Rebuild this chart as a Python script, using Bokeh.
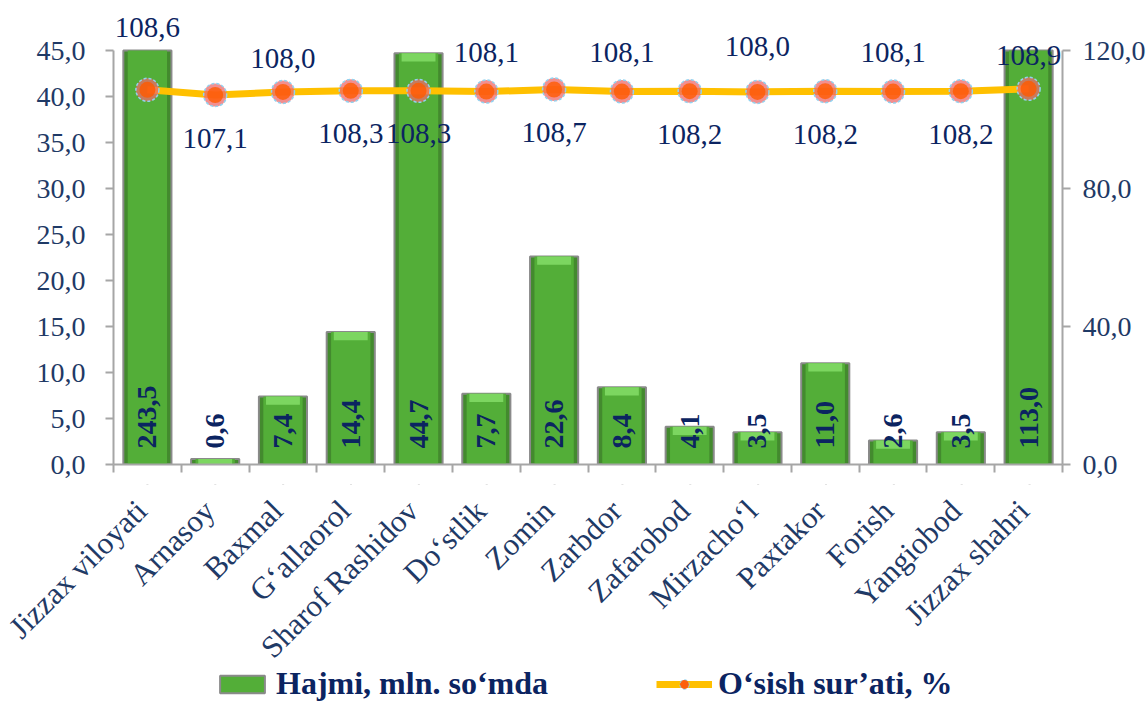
import numpy as np
from bokeh.plotting import figure
from bokeh.layouts import column
from bokeh.models import (Range1d, LinearAxis, FixedTicker, CustomJSTickFormatter,
                          ColumnDataSource, Legend, LegendItem)
from bokeh.core.properties import value
from bokeh.embed import file_html
from bokeh.resources import INLINE

categories = ["Jizzax viloyati", "Arnasoy", "Baxmal", "G\u2018allaorol", "Sharof Rashidov",
              "Do\u2018stlik", "Zomin", "Zarbdor", "Zafarobod", "Mirzacho\u2018l",
              "Paxtakor", "Forish", "Yangiobod", "Jizzax shahri"]
volume = [243.5, 0.6, 7.4, 14.4, 44.7, 7.7, 22.6, 8.4, 4.1, 3.5, 11.0, 2.6, 3.5, 113.0]
growth = [108.6, 107.1, 108.0, 108.3, 108.3, 108.1, 108.7, 108.1, 108.2, 108.0, 108.2, 108.1, 108.2, 108.9]
left_ticks = [0, 5, 10, 15, 20, 25, 30, 35, 40, 45]
right_ticks = [0, 40, 80, 120]
bar_name = "Hajmi, mln. so\u2018mda"
line_name = "O\u2018sish sur\u2019ati, %"

# label placement (style): screen-pixel offsets (down positive) of growth labels
growth_label_dy = [-62, 43, -33, 43, 43, -39, 43, -39, 43, -45, 43, -39, 43, -33]

FONT = "Liberation Serif"
NAVY = "#0B2461"
TICK_COL = "#1F3A66"
LEFT_MAX = left_ticks[-1]
RIGHT_MAX = right_ticks[-1]

# layout (pixels)
W = 1148
LEFT, RIGHT = 113, 85
TOP = 8            # frame top (space for labels above the axes)
AXIS_TOP = 50      # where the axes' maximum sits
AXIS_BOT = 464     # where zero sits
H1 = 484
H2 = 702 - H1
FRAME_H = AXIS_BOT - TOP
AXIS_H = AXIS_BOT - AXIS_TOP

n = len(categories)
xc = np.arange(n) + 0.5
PX = (W - LEFT - RIGHT) / n   # pixels per category

def fmt(v):
    return f"{v:.1f}".replace(".", ",")

src = ColumnDataSource(dict(
    x=xc, v=volume, g=growth,
    vtop=[min(v, LEFT_MAX) for v in volume],
    vlab=[fmt(v) for v in volume],
    glab=[fmt(g) for g in growth],
    gdy=growth_label_dy,
    cat=categories,
    bev_top=[v if v <= LEFT_MAX else 0.0 for v in volume],
    bev_bot=[max(0.0, v - 0.9) if v <= LEFT_MAX else 0.0 for v in volume],
))

xr = Range1d(0, n)
p = figure(width=W, height=H1, output_backend="svg", toolbar_location=None,
           x_range=xr, y_range=Range1d(0, LEFT_MAX * FRAME_H / AXIS_H),
           min_border_left=LEFT, min_border_top=TOP, min_border_right=RIGHT,
           min_border_bottom=H1 - AXIS_BOT)
p.frame_align = False
p.extra_y_ranges = {"r": Range1d(0, RIGHT_MAX * FRAME_H / AXIS_H)}
p.outline_line_color = None
p.xgrid.visible = False
p.ygrid.visible = False

# bars
bar_base = p.vbar(x="x", top="vtop", bottom=0, width=0.71, source=src,
                  fill_color="#438A2E", line_color="#8A8A8A", line_width=2)
p.vbar(x="x", top="vtop", bottom=0, width=0.58, source=src, fill_color="#53AE38", line_color=None)
p.vbar(x="x", top="bev_top", bottom="bev_bot", width=0.5, source=src, fill_color="#7CD660",
       line_color=None)

# bar value labels
p.text(x="x", y=0, text="vlab", source=src, angle=np.pi / 2, text_align="left",
       text_baseline="middle", y_offset=-16,
       text_font=value(FONT), text_font_style="bold", text_font_size="28px", text_color=NAVY)

# line
ln = p.line(x="x", y="g", source=src, y_range_name="r", line_color="#FFC000", line_width=7)
outer = p.scatter(x="x", y="g", source=src, y_range_name="r", size=23, fill_color="#EE6A6A",
                  fill_alpha=0.75, line_color="#92D2F0", line_width=1.5, line_dash="3 2")
inner = p.scatter(x="x", y="g", source=src, y_range_name="r", size=16, fill_color="#FF5A00",
                  fill_alpha=0.8, line_color=None)
p.text(x="x", y="g", text="glab", source=src, y_range_name="r", y_offset="gdy",
       text_align="center", text_baseline="middle",
       text_font=value(FONT), text_font_size="29px", text_color=NAVY)

# axes
fmt_js = "return tick.toFixed(1).replace('.', ',');"
ax = p.xaxis[0]
ax.ticker = FixedTicker(ticks=[], minor_ticks=list(range(n + 1)))
ax.major_tick_line_color = None
ax.major_tick_out = 0
ax.major_tick_in = 0
ax.minor_tick_line_color = "#A6A6A6"
ax.minor_tick_line_width = 2
ax.minor_tick_out = 8
ax.minor_tick_in = 0
ax.axis_line_color = "#A6A6A6"
ax.axis_line_width = 2

ay = p.yaxis[0]
ay.bounds = (0, LEFT_MAX)
ay.ticker = FixedTicker(ticks=left_ticks)
ay.formatter = CustomJSTickFormatter(code=fmt_js)
ar = LinearAxis(y_range_name="r", ticker=FixedTicker(ticks=right_ticks),
                formatter=CustomJSTickFormatter(code=fmt_js), bounds=(0, RIGHT_MAX))
p.add_layout(ar, "right")
for a, st in ((ay, 20), (ar, 12)):
    a.axis_line_color = "#A6A6A6"
    a.axis_line_width = 2
    a.major_tick_line_color = "#A6A6A6"
    a.major_tick_line_width = 2
    a.major_tick_out = 8
    a.major_tick_in = 0
    a.minor_tick_line_color = None
    a.major_label_standoff = st
    a.major_label_text_font = FONT
    a.major_label_text_font_size = "28px"
    a.major_label_text_color = TICK_COL

# lower panel: category labels and legend (frame spans the whole width)
q = figure(width=W, height=H2, output_backend="svg", toolbar_location=None,
           x_range=Range1d(-LEFT / PX, n + RIGHT / PX), y_range=Range1d(0, 1),
           min_border_left=0, min_border_top=0, min_border_right=0, min_border_bottom=0)
q.frame_align = False
q.outline_line_color = None
q.axis.visible = False
q.grid.visible = False
q.text(x="x", y=1, text="cat", source=src, x_offset=-6, y_offset=21,
       angle=np.pi / 4, text_align="right", text_baseline="middle",
       text_font=value(FONT), text_font_size="31px", text_color=TICK_COL)

# legend proxies (zero-size / out of this panel's range, so only the legend shows them)
lb = q.vbar(x="x", top="g", bottom="g", width=0, source=src,
            fill_color="#53AE38", line_color="#8A8A8A", line_width=2)
ll = q.line(x="x", y="g", source=src, line_color="#FFC000", line_width=7)
lo = q.scatter(x="x", y="g", source=src, size=23, fill_color="#EE6A6A", fill_alpha=0.8,
               line_color="#92D2F0", line_width=1.5, line_dash="3 2")
li = q.scatter(x="x", y="g", source=src, size=16, fill_color="#FF5A00", fill_alpha=0.85,
               line_color=None)

legend = Legend(items=[LegendItem(label=bar_name, renderers=[lb], index=0),
                       LegendItem(label=line_name, renderers=[ll, lo, li], index=0)],
                orientation="horizontal", location=(214, 0),
                glyph_width=56, glyph_height=22, spacing=108, label_standoff=6,
                label_text_font=FONT, label_text_font_style="bold",
                label_text_font_size="32px", label_text_color=NAVY,
                border_line_color=None, background_fill_alpha=0, padding=0, margin=0)
q.add_layout(legend, "center")

open("out.html", "w").write(file_html(column(p, q, spacing=0), INLINE))
